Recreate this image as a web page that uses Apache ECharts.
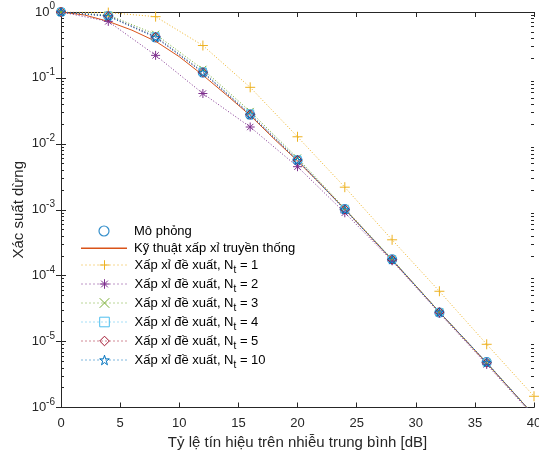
<!DOCTYPE html>
<html><head><meta charset="utf-8">
<script src="https://cdn.jsdelivr.net/npm/echarts@6/dist/echarts.min.js"></script>
<style>html,body{margin:0;padding:0;background:#fff}#c{width:539px;height:457px}</style>
</head><body><div id="c"></div>
<script>
// ---- data ----
const snr = [0, 4, 8, 12, 16, 20, 24, 28, 32, 36, 40];
const simSnr = [0, 4, 8, 12, 16, 20, 24, 28, 32, 36];
const simValues = [1, 0.87, 0.41, 0.12, 0.0276, 0.0056, 0.00102, 1.77e-4, 2.75e-5, 4.9e-6];
const tradSnr = [0, 2, 4, 6, 8, 10, 12, 14, 16, 18, 20, 22, 24, 26, 28, 30, 32, 34, 36, 38, 40];
const tradValues = [1, 0.9, 0.72, 0.53, 0.36, 0.21, 0.11, 0.055, 0.027, 0.012, 0.0055, 0.0024, 0.00102,
  4.2e-4, 1.72e-4, 7e-5, 2.8e-5, 1.15e-5, 4.7e-6, 1.9e-6, 7.6e-7];
const nt1 = [1, 0.98, 0.85, 0.31, 0.072, 0.0128, 0.0022, 3.5e-4, 5.8e-5, 9.1e-6, 1.48e-6];
const nt2 = [1, 0.72, 0.22, 0.058, 0.018, 0.0045, 9e-4, 1.68e-4, 2.7e-5, 4.5e-6, 7.3e-7];
const nt3 = [1, 0.9, 0.46, 0.135, 0.031, 0.0061, 0.00105, 1.78e-4, 2.8e-5, 4.8e-6, 7.6e-7];
const nt4 = [1, 0.88, 0.43, 0.125, 0.029, 0.0058, 0.00102, 1.76e-4, 2.8e-5, 4.8e-6, 7.6e-7];
const nt5 = [1, 0.87, 0.42, 0.122, 0.028, 0.0057, 0.00101, 1.75e-4, 2.8e-5, 4.8e-6, 7.6e-7];
const nt10 = [1, 0.86, 0.41, 0.12, 0.0275, 0.0056, 0.001, 1.74e-4, 2.8e-5, 4.8e-6, 7.6e-7];
const xTicks = [0, 5, 10, 15, 20, 25, 30, 35, 40];
const yTicks = [1e-6, 1e-5, 1e-4, 1e-3, 1e-2, 1e-1, 1];
const names = ['Mô phỏng', 'Kỹ thuật xấp xỉ truyền thống',
  'Xấp xỉ đề xuất, Nt = 1', 'Xấp xỉ đề xuất, Nt = 2', 'Xấp xỉ đề xuất, Nt = 3',
  'Xấp xỉ đề xuất, Nt = 4', 'Xấp xỉ đề xuất, Nt = 5', 'Xấp xỉ đề xuất, Nt = 10'];
const xName = 'Tỷ lệ tín hiệu trên nhiễu trung bình [dB]';
const yName = 'Xác suất dừng';

// ---- build ----
const minorTicks = [];
for (let e = -6; e < 0; e++) for (let m = 2; m <= 9; m++) minorTicks.push(m * Math.pow(10, e));
const pair = (xs, ys) => ys.map((v, i) => [xs[i], v]);
const FONT = "'Liberation Sans', Arial, sans-serif";
const TXT = '#262626';
const clear = 'rgba(0,0,0,0)';
const SYM = {
  plus: 'path://M5,0L5,10M0,5L10,5',
  ast: 'path://M5,0L5,10M0,5L10,5M1.5,1.5L8.5,8.5M8.5,1.5L1.5,8.5',
  cross: 'path://M0,0L10,10M10,0L0,10',
  star: 'path://M5,0L6.123,3.455L9.755,3.455L6.816,5.59L7.939,9.045L5,6.91L2.061,9.045L3.184,5.59L0.245,3.455L3.877,3.455Z'
};
function dotted(name, data, color, symbol, size) {
  return {
    name, type: 'line', data, symbol, symbolSize: size, showSymbol: true,
    lineStyle: { color, width: 1, type: [1, 2] },
    itemStyle: { color: clear, borderColor: color, borderWidth: 1 },
    emphasis: { disabled: true }, animation: false
  };
}
const baseX = {
  type: 'value', min: 0, max: 40, interval: 5,
  axisLine: { lineStyle: { color: TXT, width: 1 } },
  axisTick: { inside: true, length: 5, lineStyle: { color: TXT } },
  splitLine: { show: false }
};
const baseY = {
  type: 'log', logBase: 10, min: 1e-6, max: 1, splitNumber: 6,
  axisLine: { show: true, lineStyle: { color: TXT, width: 1 } },
  axisTick: { inside: true, length: 5, lineStyle: { color: TXT }, customValues: yTicks },
  splitLine: { show: false }, minorTick: { show: false }
};
const chart = echarts.init(document.getElementById('c'), null, { renderer: 'canvas' });
const subFmt = n => n.replace('Nt', 'N{sub|t}');
chart.setOption({
  backgroundColor: '#fff',
  animation: false,
  textStyle: { fontFamily: FONT },
  grid: { left: 61, right: 5, top: 12, bottom: 49.5, containLabel: false, outerBoundsMode: 'none' },
  xAxis: [
    Object.assign({}, baseX, {
      position: 'bottom',
      axisLabel: { color: TXT, fontSize: 13, margin: 9, fontFamily: FONT, customValues: xTicks },
      name: xName, nameLocation: 'middle', nameGap: 28, nameMoveOverlap: false,
      nameTextStyle: { color: TXT, fontSize: 15, fontFamily: FONT }
    }),
    Object.assign({}, baseX, { position: 'top', axisLabel: { show: false } })
  ],
  yAxis: [
    Object.assign({}, baseY, {
      position: 'left',
      axisLabel: {
        color: TXT, fontSize: 13, margin: 6, fontFamily: FONT, customValues: yTicks,
        formatter: v => '{b|10}{s|' + Math.round(Math.log10(v)) + '}',
        rich: {
          b: { fontSize: 13, color: TXT, fontFamily: FONT },
          s: { fontSize: 10, color: TXT, fontFamily: FONT, padding: [0, 0, 11, 0] }
        }
      },
      name: yName, nameLocation: 'middle', nameGap: 35, nameMoveOverlap: false,
      nameTextStyle: { color: TXT, fontSize: 15, fontFamily: FONT }
    }),
    Object.assign({}, baseY, { position: 'right', axisLabel: { show: false } }),
    Object.assign({}, baseY, {
      position: 'left', axisLine: { show: false }, axisLabel: { show: false },
      axisTick: { inside: true, length: 3, lineStyle: { color: TXT }, customValues: minorTicks }
    }),
    Object.assign({}, baseY, {
      position: 'right', axisLine: { show: false }, axisLabel: { show: false },
      axisTick: { inside: true, length: 3, lineStyle: { color: TXT }, customValues: minorTicks }
    })
  ],
  legend: [
    {
      orient: 'vertical', left: 76, top: 219.5, itemWidth: 46, itemHeight: 10, itemGap: 4.3,
      selectedMode: false, align: 'left',
      itemStyle: { color: clear, borderWidth: 1.2 },
      lineStyle: { width: 1 },
      textStyle: { color: '#000', fontSize: 13, fontFamily: FONT, padding: [0, 0, 0, 2] },
      data: [
        { name: names[0] },
        { name: names[1], icon: 'path://M0,0L46,0L46,1.6L0,1.6Z', itemStyle: { color: '#D95319', borderWidth: 0 } }
      ]
    },
    {
      orient: 'vertical', left: 76, top: 253.5, itemWidth: 46, itemHeight: 12, itemGap: 2.5,
      selectedMode: false, align: 'left',
      itemStyle: { color: clear, borderWidth: 1 },
      lineStyle: { width: 1, type: [1, 3] },
      formatter: subFmt,
      textStyle: {
        color: '#000', fontSize: 13, fontFamily: FONT, padding: [0, 0, 0, 2],
        rich: { sub: { fontSize: 10, color: '#000', fontFamily: FONT, padding: [10, 0, 0, 0] } }
      },
      data: names.slice(2)
    }
  ],
  series: [
    {
      name: names[0], type: 'scatter', data: pair(simSnr, simValues), symbol: 'circle', symbolSize: 9,
      itemStyle: { color: clear, borderColor: '#0072BD', borderWidth: 1.2 }, emphasis: { disabled: true }
    },
    {
      name: names[1], type: 'line', data: pair(tradSnr, tradValues), symbol: 'none', showSymbol: false,
      lineStyle: { color: '#D95319', width: 1 }, itemStyle: { color: '#D95319' }, emphasis: { disabled: true }
    },
    dotted(names[2], pair(snr, nt1), '#EDB120', SYM.plus, 10),
    dotted(names[3], pair(snr, nt2), '#7E2F8E', SYM.ast, 9),
    dotted(names[4], pair(snr, nt3), '#77AC30', SYM.cross, 7),
    dotted(names[5], pair(snr, nt4), '#4DBEEE', 'rect', 7),
    dotted(names[6], pair(snr, nt5), '#A2142F', 'diamond', 9),
    dotted(names[7], pair(snr, nt10), '#0072BD', SYM.star, 8)
  ]
});
</script>
</body></html>
